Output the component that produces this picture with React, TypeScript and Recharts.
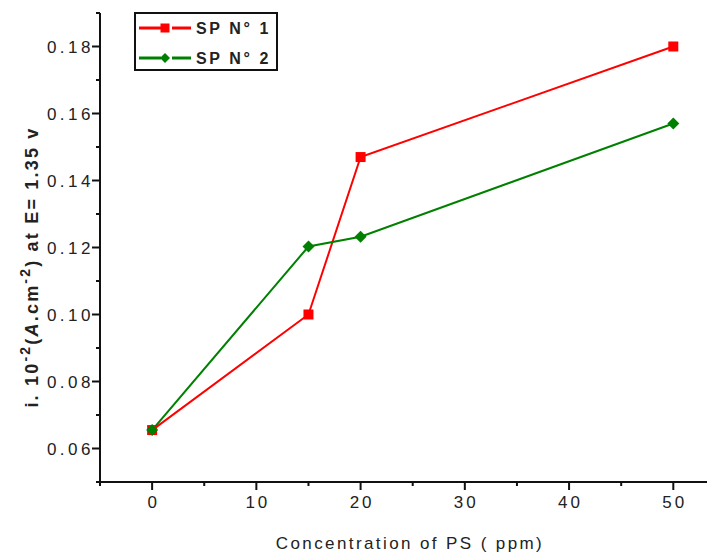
import React from 'react';
import { LineChart, Line, XAxis, YAxis } from 'recharts';

// ── Données ─────────────────────────────────────────────
const CONCENTRATIONS = [0, 15, 20, 50];
const SP1_VALUES = [0.0655, 0.1, 0.147, 0.18];
const SP2_VALUES = [0.0655, 0.1203, 0.1232, 0.157];

const SERIES_NAMES = ['SP N° 1', 'SP N° 2'];

const X_MAJOR = [0, 10, 20, 30, 40, 50];
const X_MINOR = [-5, 5, 15, 25, 35, 45];
const Y_MAJOR = [0.06, 0.08, 0.1, 0.12, 0.14, 0.16, 0.18];
const Y_MINOR = [0.05, 0.07, 0.09, 0.11, 0.13, 0.15, 0.17, 0.19];

const RED = '#ff0000';
const GREEN = '#008000';
const AXIS = '#111';
const FONT = '"Liberation Sans", Arial, sans-serif';

const data = CONCENTRATIONS.map((x, i) => ({ x, sp1: SP1_VALUES[i], sp2: SP2_VALUES[i] }));

const isIn = (arr: number[], v: number) => arr.some(a => Math.abs(a - v) < 1e-9);

const XTick = ({ x, y, payload }: any) => {
  const major = isIn(X_MAJOR, payload.value);
  return (
    <g>
      <line x1={x} x2={x} y1={y} y2={y + (major ? 8 : 4)} stroke={AXIS} strokeWidth={2} />
      {major && (
        <text x={x} y={y + 26} dx={1.5} textAnchor="middle" fontFamily={FONT} fontSize={17}
          letterSpacing={3} fill="#222">
          {payload.value}
        </text>
      )}
    </g>
  );
};

const YTick = ({ x, y, payload }: any) => {
  const major = isIn(Y_MAJOR, payload.value);
  return (
    <g>
      <line x1={x} x2={x - (major ? 8 : 4)} y1={y} y2={y} stroke={AXIS} strokeWidth={2} />
      {major && (
        <text x={x - 6} y={y + 6} textAnchor="end" fontFamily={FONT} fontSize={17}
          letterSpacing={3.5} fill="#222">
          {payload.value.toFixed(2)}
        </text>
      )}
    </g>
  );
};

const XTitle = () => (
  <text x={402} y={541} textAnchor="middle" fontFamily={FONT} fontSize={17}
    letterSpacing={2.4} fill="#222">
    Concentration of PS ( ppm)
  </text>
);

const YTitle = () => (
  <text transform="rotate(-90)" x={-259} y={30} textAnchor="middle" fontFamily={FONT}
    fontSize={18} fontWeight="bold" letterSpacing={2.2} fill="#222">
    i. 10<tspan dy={-8} fontSize={14}>-2</tspan>
    <tspan dy={8}>(</tspan><tspan fontStyle="italic">A</tspan>.cm
    <tspan dy={-8} fontSize={14}>-2</tspan>
    <tspan dy={8}>) at E= 1.35 v</tspan>
  </text>
);

const Square = ({ cx, cy, size = 10 }: any) => (
  <rect x={cx - size / 2} y={cy - size / 2} width={size} height={size} fill={RED} />
);

const Diamond = ({ cx, cy, r = 6 }: any) => (
  <polygon points={`${cx},${cy - r} ${cx + r},${cy} ${cx},${cy + r} ${cx - r},${cy}`} fill={GREEN} />
);

const Legend = () => (
  <div style={{
    position: 'absolute', left: 126, top: 4, width: 140, height: 55,
    border: `2px solid ${AXIS}`, background: '#fff',
  }}>
    <svg width={140} height={55}>
      {[0, 1].map(i => {
        const cy = 14 + i * 30;
        const color = i === 0 ? RED : GREEN;
        return (
          <g key={i}>
            <line x1={3} x2={25} y1={cy} y2={cy} stroke={color} strokeWidth={3} />
            <line x1={36} x2={55} y1={cy} y2={cy} stroke={color} strokeWidth={3} />
            {i === 0 ? <Square cx={29} cy={cy} size={9} /> : <Diamond cx={29} cy={cy} r={5} />}
            <text x={60} y={cy + 6} fontFamily={FONT} fontSize={16} fontWeight="bold"
              letterSpacing={2.6} fill="#222">
              {SERIES_NAMES[i]}
            </text>
          </g>
        );
      })}
    </svg>
  </div>
);

export default function App() {
  return (
    <div style={{ position: 'relative', width: 707, height: 548 }}>
      <LineChart width={707} height={548} data={data}
        margin={{ top: 5, right: 0, bottom: 34, left: 0 }}>
        <XAxis dataKey="x" type="number" domain={[-5, 54]} allowDataOverflow
          ticks={[...X_MINOR, ...X_MAJOR].sort((a, b) => a - b)}
          height={40} tickSize={0} tickMargin={0} tickLine={false}
          axisLine={{ stroke: AXIS, strokeWidth: 2 }} tick={<XTick />}
          interval={0} label={<XTitle />} />
        <YAxis type="number" domain={[0.05, 0.19]} allowDataOverflow
          ticks={[...Y_MINOR, ...Y_MAJOR].sort((a, b) => a - b)}
          width={92} tickSize={0} tickMargin={0} tickLine={false}
          axisLine={{ stroke: AXIS, strokeWidth: 2 }} tick={<YTick />}
          interval={0} label={<YTitle />} />
        <Line dataKey="sp1" stroke={RED} strokeWidth={2} isAnimationActive={false}
          dot={(p: any) => <Square key={`s${p.index}`} cx={p.cx} cy={p.cy} />} />
        <Line dataKey="sp2" stroke={GREEN} strokeWidth={2} isAnimationActive={false}
          dot={(p: any) => <Diamond key={`d${p.index}`} cx={p.cx} cy={p.cy} />} />
      </LineChart>
      <Legend />
    </div>
  );
}
